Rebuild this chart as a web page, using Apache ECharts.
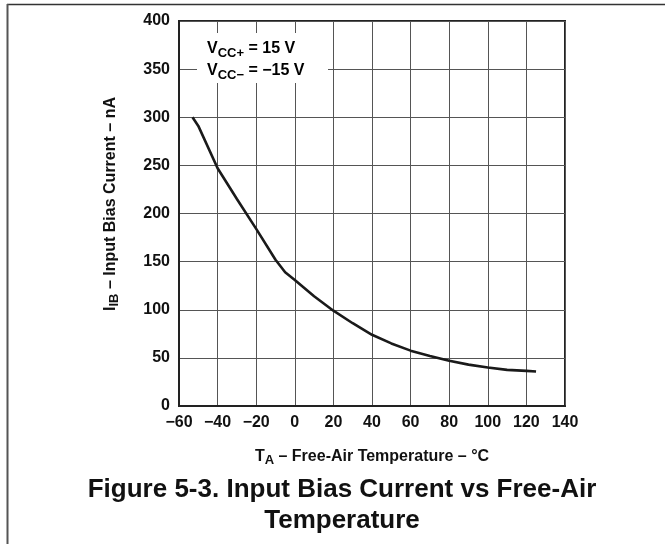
<!DOCTYPE html>
<html><head><meta charset="utf-8">
<script src="https://cdn.jsdelivr.net/npm/echarts@6/dist/echarts.min.js"></script>
<style>html,body{margin:0;padding:0;background:#fff}#c{width:665px;height:544px}</style>
</head><body><div id="c"></div>
<script>
// Data
const temperatureC = [-53, -50, -40, -30, -20, -10, -5, 0, 10, 20, 30, 40, 50, 60, 70, 80, 90, 100, 110, 120, 125];
const inputBiasCurrentNA = [300, 291, 247, 215, 184, 152, 139, 131, 114, 99, 86, 74, 65, 57.5, 52, 47, 43, 40, 37.5, 36.5, 35.8];
const xAxisRange = [-60, 140];
const xAxisStep = 20;
const yAxisRange = [0, 400];
const yAxisStep = 50;

const FONT = "'Liberation Sans', Arial, Helvetica, sans-serif";
const seriesData = temperatureC.map((t, i) => [t, inputBiasCurrentNA[i]]);

const chart = echarts.init(document.getElementById('c'), null, {renderer: 'canvas'});
const subStyle = (size, lh) => ({fontSize: size, fontWeight: 'bold', fontFamily: FONT, color: '#111', lineHeight: lh, verticalAlign: 'bottom'});
const mainStyle = (size, lh) => ({fontSize: size, fontWeight: 'bold', fontFamily: FONT, color: '#111', lineHeight: lh, verticalAlign: 'middle'});

chart.setOption({
  animation: false,
  backgroundColor: '#fff',
  grid: {left: 179, top: 21, width: 386, height: 385, show: true, borderColor: '#222', borderWidth: 2, backgroundColor: 'transparent'},
  xAxis: {
    type: 'value', min: xAxisRange[0], max: xAxisRange[1], interval: xAxisStep,
    axisLine: {show: true, onZero: false, lineStyle: {color: '#222', width: 2}},
    axisTick: {show: false},
    splitLine: {show: true, lineStyle: {color: '#555', width: 1}},
    axisLabel: {margin: 9, color: '#111', fontSize: 16, fontWeight: 'bold', fontFamily: FONT,
      formatter: v => (v < 0 ? '\u2212' + Math.abs(v) : String(v))},
    name: '{m|T}{s|A}{m| \u2013 Free-Air Temperature \u2013 \u00B0C}',
    nameLocation: 'middle', nameGap: 41,
    nameTextStyle: {rich: {m: mainStyle(16, 20), s: subStyle(13, 12)}}
  },
  yAxis: {
    type: 'value', min: yAxisRange[0], max: yAxisRange[1], interval: yAxisStep,
    axisLine: {show: true, onZero: false, lineStyle: {color: '#222', width: 2}},
    axisTick: {show: false},
    splitLine: {show: true, lineStyle: {color: '#555', width: 1}},
    axisLabel: {margin: 9, color: '#111', fontSize: 16, fontWeight: 'bold', fontFamily: FONT},
    name: '{m|I}{s|IB}{m| \u2013 Input Bias Current \u2013 nA}',
    nameLocation: 'middle', nameGap: 58,
    nameTextStyle: {padding: [0, 0, 0, 19], rich: {m: mainStyle(16, 20), s: subStyle(13, 12)}}
  },
  series: [{
    type: 'line', data: seriesData, smooth: false, showSymbol: false, symbol: 'none',
    lineStyle: {color: '#1a1a1a', width: 2.6}, z: 5
  }],
  graphic: [
    {type: 'line', shape: {x1: 7, y1: 4.5, x2: 665, y2: 4.5}, style: {stroke: '#333', lineWidth: 1.5}},
    {type: 'line', shape: {x1: 7.5, y1: 4, x2: 7.5, y2: 544}, style: {stroke: '#555', lineWidth: 2}},
    {type: 'rect', shape: {x: 197, y: 33, width: 131, height: 50}, style: {fill: '#fff'}, z: 10},
    {type: 'text', x: 207, y: 38, z: 11, style: {
      text: '{m|V}{s|CC+}{m| = 15 V}\n{m|V}{s|CC\u2212}{m| = \u221215 V}',
      rich: {m: mainStyle(16, 22), s: subStyle(13, 13)}
    }},
    {type: 'text', x: 342, y: 474, z: 11, style: {
      text: 'Figure 5-3. Input Bias Current vs Free-Air\nTemperature',
      fontSize: 26, fontWeight: 'bold', fontFamily: FONT, fill: '#111', align: 'center', lineHeight: 31
    }}
  ]
});
</script></body></html>
